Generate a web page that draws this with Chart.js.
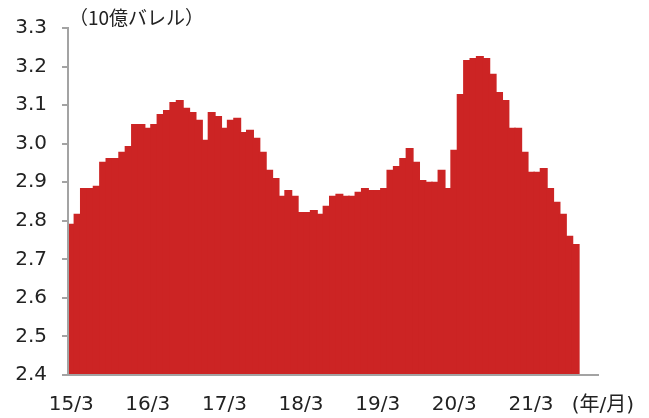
<!DOCTYPE html>
<html>
<head>
<meta charset="utf-8">
<script src="https://cdn.jsdelivr.net/npm/chart.js@4.4.0/dist/chart.umd.min.js"></script>
<style>
  html, body { margin: 0; padding: 0; background: #fff; }
  #wrap { width: 649px; height: 418px; position: relative; }
</style>
</head>
<body>
<div id="wrap"><canvas id="chart"></canvas></div>
<script>
// months 15/3 .. 22/1 (last three have no data yet)
const months = ('15/3 15/4 15/5 15/6 15/7 15/8 15/9 15/10 15/11 15/12 16/1 16/2 ' +
  '16/3 16/4 16/5 16/6 16/7 16/8 16/9 16/10 16/11 16/12 17/1 17/2 ' +
  '17/3 17/4 17/5 17/6 17/7 17/8 17/9 17/10 17/11 17/12 18/1 18/2 ' +
  '18/3 18/4 18/5 18/6 18/7 18/8 18/9 18/10 18/11 18/12 19/1 19/2 ' +
  '19/3 19/4 19/5 19/6 19/7 19/8 19/9 19/10 19/11 19/12 20/1 20/2 ' +
  '20/3 20/4 20/5 20/6 20/7 20/8 20/9 20/10 20/11 20/12 21/1 21/2 ' +
  '21/3 21/4 21/5 21/6 21/7 21/8 21/9 21/10 21/11 21/12 22/1').split(' ');

// inventory, billion barrels
const stocks = [
  2.790, 2.816, 2.883, 2.883, 2.889, 2.951, 2.961, 2.961, 2.977, 2.992, 3.049, 3.049,
  3.039, 3.049, 3.075, 3.085, 3.106, 3.111, 3.091, 3.080, 3.060, 3.008, 3.080, 3.070,
  3.039, 3.060, 3.065, 3.028, 3.034, 3.013, 2.977, 2.930, 2.909, 2.863, 2.878, 2.863,
  2.821, 2.821, 2.826, 2.816, 2.837, 2.863, 2.868, 2.863, 2.863, 2.873, 2.883, 2.878,
  2.878, 2.883, 2.930, 2.940, 2.961, 2.987, 2.951, 2.904, 2.899, 2.899, 2.930, 2.883,
  2.982, 3.127, 3.215, 3.220, 3.225, 3.220, 3.179, 3.132, 3.111, 3.039, 3.039, 2.977,
  2.925, 2.925, 2.935, 2.883, 2.847, 2.816, 2.759, 2.738
];

const tickLabels = ['15/3', '16/3', '17/3', '18/3', '19/3', '20/3', '21/3'];
const unitLabel = '（10億バレル）';
const xUnitLabel = '(年/月)';

const axisGrey = '#a3a3a3';
const barRed = '#cc2424';
const txtFont = '"DejaVu Sans", "Noto Sans CJK JP", sans-serif';

// extra captions outside the axes
const captions = {
  id: 'captions',
  afterDraw(chart) {
    const { ctx, chartArea } = chart;
    ctx.save();
    ctx.fillStyle = '#222';
    ctx.textBaseline = 'middle';
    ctx.font = '19px "Noto Sans CJK JP", sans-serif';
    ctx.textAlign = 'left';
    ctx.fillText(unitLabel, chartArea.left + 1, 18);
    ctx.font = '20px ' + txtFont;
    ctx.textAlign = 'right';
    ctx.fillText(xUnitLabel, 634, 406);
    ctx.restore();
  }
};

new Chart(document.getElementById('chart'), {
  type: 'bar',
  data: {
    labels: months,
    datasets: [{
      data: stocks,
      backgroundColor: barRed,
      borderWidth: 0,
      inflateAmount: 0.8,
      barPercentage: 1,
      categoryPercentage: 1
    }]
  },
  options: {
    responsive: true,
    maintainAspectRatio: false,
    animation: false,
    layout: { padding: { top: 28, right: 51, bottom: 0, left: 0 } },
    plugins: { legend: { display: false }, tooltip: { enabled: false } },
    scales: {
      x: {
        afterFit: (s) => { s.height = 43; },
        grid: { display: true, drawOnChartArea: false, drawTicks: false },
        border: { display: true, color: axisGrey, width: 2, z: 1 },
        ticks: {
          autoSkip: false,
          maxRotation: 0,
          padding: 18,
          color: '#222',
          font: { family: txtFont, size: 20 },
          callback: function (value) {
            const l = this.getLabelForValue(value);
            return tickLabels.includes(l) ? l : '';
          }
        }
      },
      y: {
        min: 2.4,
        max: 3.3,
        afterFit: (s) => { s.width = 68; },
        grid: { drawOnChartArea: false, drawTicks: true, tickLength: 6, color: axisGrey, lineWidth: 2 },
        border: { display: true, color: axisGrey, width: 2, z: 1 },
        ticks: {
          stepSize: 0.1,
          padding: 15,
          color: '#222',
          font: { family: txtFont, size: 20 },
          callback: (v) => v.toFixed(1)
        }
      }
    }
  },
  plugins: [captions]
});
</script>
</body>
</html>
